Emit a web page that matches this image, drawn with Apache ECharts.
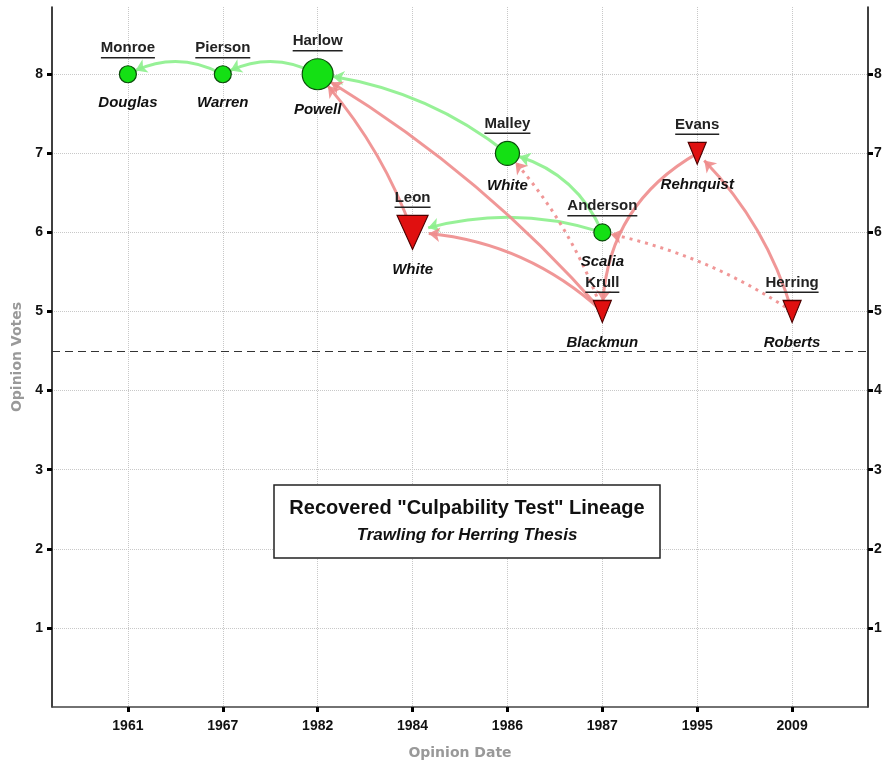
<!DOCTYPE html>
<html>
<head>
<meta charset="utf-8">
<script src="https://cdn.jsdelivr.net/npm/echarts@6/dist/echarts.min.js"></script>
<style>
html,body{margin:0;padding:0;background:#fff;}
#chart{width:886px;height:765px;}
</style>
</head>
<body>
<div id="chart"></div>
<script>
// ---- data ----
const categories = ['1961','1967','1982','1984','1986','1987','1995','2009'];
const caseNames  = ['Monroe','Pierson','Harlow','Leon','Malley','Anderson','Krull','Evans','Herring'];
const justices   = ['Douglas','Warren','Powell','White','White','Scalia','Blackmun','Rehnquist','Roberts'];
const dateIndex  = [0,1,2,3,4,5,5,6,7];
const votes      = [8,8,8,6,7,6,5,7,5];
const upheld     = [true,true,true,false,true,true,false,false,false];
const linkSource = [1,2,4,5,5,3,6,6,6,7,8,8];
const linkTarget = [0,1,2,4,3,2,2,3,4,6,7,5];
const linkPartial= [false,false,false,false,false,false,false,false,true,false,false,true];
const yTicks     = [1,2,3,4,5,6,7,8];
const threshold  = 4.5;
const titleText  = 'Recovered "Culpability Test" Lineage';
const subText    = 'Trawling for Herring Thesis';

// ---- styling ----
const nodeSizes = [[17,17],[17,17],[31,31],[31,34],[24,24],[17,17],[18,22],[18,22],[18,22]];
const curveness = [-0.27,-0.27,-0.14,-0.25,-0.16,-0.1,-0.08,-0.18,-0.1,-0.28,-0.13,-0.1];
const FONT = '"Liberation Sans", Arial, sans-serif';
const WIDE = '"DejaVu Sans", sans-serif';
const GREEN = '#14e014', GREEN_EDGE = '#8cf08c';
const RED = '#e01010', RED_EDGE = '#ee8c8c';

const cv = document.createElement('canvas').getContext('2d');
cv.font = 'bold 15px ' + FONT;

const points = dateIndex.map((d, i) => [d, votes[i]]);

const nodes = points.map((p, i) => {
  const w = Math.round(cv.measureText(caseNames[i]).width);
  return {
    name: 'n' + i,
    value: p,
    symbol: upheld[i] ? 'circle' : 'triangle',
    symbolRotate: upheld[i] ? 0 : 180,
    symbolSize: nodeSizes[i],
    itemStyle: {
      color: upheld[i] ? GREEN : RED,
      borderColor: upheld[i] ? '#0b4d0b' : '#4d0000',
      borderWidth: 1.2
    },
    label: {
      show: true,
      position: 'top',
      distance: 6,
      formatter: '{t|' + caseNames[i] + '}\n{u|}',
      rich: {
        t: {fontFamily: FONT, fontWeight: 'bold', fontSize: 15, color: '#222', lineHeight: 16, align: 'center'},
        u: {width: w, height: 1.5, lineHeight: 3, backgroundColor: '#222', align: 'center'}
      }
    }
  };
});

const links = linkSource.map((s, k) => ({
  source: 'n' + s,
  target: 'n' + linkTarget[k],
  symbol: ['none', 'arrow'],
  symbolSize: [0, 11],
  lineStyle: {
    color: upheld[s] ? GREEN_EDGE : RED_EDGE,
    width: 3,
    type: linkPartial[k] ? [3, 5] : 'solid',
    curveness: curveness[k],
    opacity: 0.9
  }
}));

const chart = echarts.init(document.getElementById('chart'));
const tickStyle = {show: true, length: 5, lineStyle: {color: '#000', width: 3}};

chart.setOption({
  animation: false,
  backgroundColor: '#fff',
  grid: {left: 52, right: 18, top: 7, bottom: 52},
  xAxis: {
    type: 'value', min: -0.8, max: 7.8,
    name: 'Opinion Date', nameLocation: 'middle', nameGap: 39,
    nameTextStyle: {color: '#999', fontWeight: 'bold', fontSize: 14, fontFamily: WIDE},
    axisLine: {show: true, onZero: false, lineStyle: {color: '#444', width: 1.5}},
    axisTick: Object.assign({customValues: categories.map((c, i) => i)}, tickStyle),
    axisLabel: {
      customValues: categories.map((c, i) => i),
      formatter: v => categories[Math.round(v)],
      color: '#111', fontWeight: 'bold', fontSize: 14, fontFamily: FONT, margin: 12
    },
    splitLine: {show: true, lineStyle: {color: '#c8c8c8', type: 'dotted', width: 1}}
  },
  yAxis: [{
    type: 'value', min: 0, max: 8.85, position: 'left',
    name: 'Opinion Votes', nameLocation: 'middle', nameGap: 26,
    nameTextStyle: {color: '#999', fontWeight: 'bold', fontSize: 14, fontFamily: WIDE},
    axisLine: {show: true, onZero: false, lineStyle: {color: '#000', width: 1.5}},
    axisTick: Object.assign({customValues: yTicks}, tickStyle),
    axisLabel: {customValues: yTicks, color: '#111', fontWeight: 'bold', fontSize: 14, fontFamily: FONT, margin: 9},
    splitLine: {show: true, lineStyle: {color: '#c8c8c8', type: 'dotted', width: 1}}
  }, {
    type: 'value', min: 0, max: 8.85, position: 'right',
    axisLine: {show: true, onZero: false, lineStyle: {color: '#000', width: 1.5}},
    axisTick: Object.assign({customValues: yTicks}, tickStyle),
    axisLabel: {customValues: yTicks, color: '#111', fontWeight: 'bold', fontSize: 14, fontFamily: FONT, margin: 6},
    splitLine: {show: false}
  }],
  series: [{
    type: 'graph',
    coordinateSystem: 'cartesian2d',
    layout: 'none',
    data: nodes,
    links: links,
    edgeSymbol: ['none', 'arrow'],
    emphasis: {disabled: true},
    z: 3
  }, {
    type: 'scatter',
    coordinateSystem: 'cartesian2d',
    silent: true,
    data: points,
    symbolSize: (v, p) => nodeSizes[p.dataIndex],
    itemStyle: {color: 'rgba(0,0,0,0)'},
    emphasis: {disabled: true},
    label: {
      show: true, position: 'bottom', distance: 13, opacity: 1,
      formatter: p => justices[p.dataIndex],
      fontFamily: FONT, fontWeight: 'bold', fontStyle: 'italic', fontSize: 15, color: '#111'
    },
    markLine: {
      silent: true, symbol: 'none', label: {show: false},
      lineStyle: {color: '#333', type: [8, 5], width: 1.2},
      data: [{yAxis: threshold}]
    },
    z: 5
  }],
  graphic: [{
    type: 'rect', z: 10,
    shape: {x: 274, y: 485, width: 386, height: 73},
    style: {fill: '#fff', stroke: '#222', lineWidth: 1.5}
  }, {
    type: 'text', z: 11, x: 467, y: 508,
    style: {text: titleText, font: 'bold 20px ' + FONT, fill: '#111', align: 'center', verticalAlign: 'middle'}
  }, {
    type: 'text', z: 11, x: 467, y: 535,
    style: {text: subText, font: 'italic bold 17px ' + FONT, fill: '#111', align: 'center', verticalAlign: 'middle'}
  }]
});
</script>
</body>
</html>
